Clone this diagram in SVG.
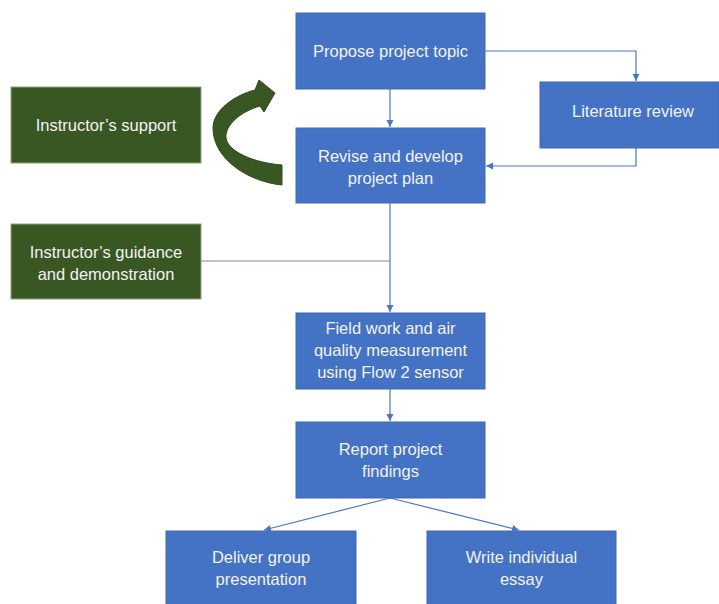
<svg xmlns="http://www.w3.org/2000/svg" width="719" height="604" viewBox="0 0 719 604">
<defs>
<style>
.b{fill:#4472C4;stroke:#3E68B4;stroke-width:1}
.g{fill:#385723;stroke:#8FA37F;stroke-width:1}
.t{font-family:"Liberation Sans",Arial,sans-serif;font-size:16.5px;fill:#F2F2F2;text-anchor:middle}
.c{fill:none;stroke:#4A76C4;stroke-width:1.2}
</style>
<marker id="ah" markerWidth="8" markerHeight="8" refX="7" refY="4" orient="auto" markerUnits="userSpaceOnUse">
<path d="M0,0.5 L7,4 L0,7.5 Z" fill="#4A76C4"/>
</marker>
</defs>
<rect width="719" height="604" fill="#FFFFFF"/>
<g id="connectors">
<line class="c" x1="390" y1="89" x2="390" y2="127" marker-end="url(#ah)"/>
<polyline class="c" points="485,51 636,51 636,81" marker-end="url(#ah)"/>
<polyline class="c" points="636,148 636,166 486,166" marker-end="url(#ah)"/>
<line class="c" x1="390" y1="203" x2="390" y2="312" marker-end="url(#ah)"/>
<line x1="201" y1="261" x2="390" y2="261" stroke="#7F937A" stroke-width="1.2"/>
<line class="c" x1="390" y1="389" x2="390" y2="421" marker-end="url(#ah)"/>
<line class="c" x1="390" y1="498" x2="264" y2="530" marker-end="url(#ah)"/>
<line class="c" x1="390" y1="498" x2="519" y2="530" marker-end="url(#ah)"/>
<path id="curved-arrow" d="M282,185 C250,182 213,160 213,128 C213,110 235,95 255,90 L259,80 L275,93 L264,112 L260,106 C240,112 225,125 226,138 C228,152 255,163 282,165 Z" fill="#385723" stroke="#2E4A1C" stroke-width="1"/>
</g>
<g id="propose"><rect class="b" x="296" y="13" width="189" height="76"/><text class="t" x="390.5" y="57">Propose project topic</text></g>
<g id="literature"><rect class="b" x="540" y="82" width="179" height="66"/><text class="t" x="633" y="117">Literature review</text></g>
<g id="revise"><rect class="b" x="296" y="128" width="189" height="75"/><text class="t" x="390.5" y="162">Revise and develop</text><text class="t" x="390.5" y="184">project plan</text></g>
<g id="support"><rect class="g" x="11" y="87" width="190" height="76"/><text class="t" x="106" y="131">Instructor’s support</text></g>
<g id="guidance"><rect class="g" x="11" y="224" width="190" height="75"/><text class="t" x="106" y="258">Instructor’s guidance</text><text class="t" x="106" y="280">and demonstration</text></g>
<g id="fieldwork"><rect class="b" x="296" y="313" width="189" height="76"/><text class="t" x="390.5" y="334">Field work and air</text><text class="t" x="390.5" y="356">quality measurement</text><text class="t" x="390.5" y="378">using Flow 2 sensor</text></g>
<g id="report"><rect class="b" x="296" y="422" width="189" height="76"/><text class="t" x="390.5" y="455">Report project</text><text class="t" x="390.5" y="477">findings</text></g>
<g id="deliver"><rect class="b" x="166" y="531" width="190" height="76"/><text class="t" x="261" y="563">Deliver group</text><text class="t" x="261" y="585">presentation</text></g>
<g id="essay"><rect class="b" x="427" y="531" width="189" height="76"/><text class="t" x="521.5" y="563">Write individual</text><text class="t" x="521.5" y="585">essay</text></g>
</svg>
